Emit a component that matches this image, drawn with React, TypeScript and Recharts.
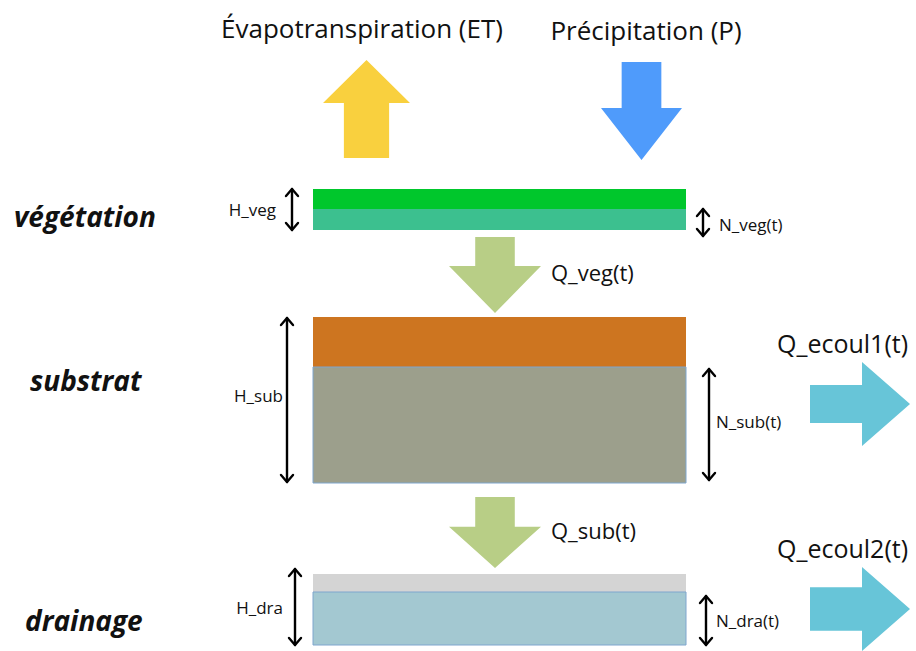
import React from "react";
import { ComposedChart, XAxis, YAxis, ReferenceArea, ReferenceLine, Scatter } from "recharts";

// Diagram units: x runs 0..916 across, depth runs 0..651 downward.
const strata = ["veg_top", "veg_water", "sub_top", "sub_water", "dra_top", "dra_water"];
const strataTop = [189, 209, 317, 367, 574, 592];
const strataBottom = [209, 230, 367, 483, 592, 645];
const strataLeft = 313;
const strataRight = 686;

const flows = ["ET", "P", "Q_veg", "Q_sub", "Q_ecoul1", "Q_ecoul2"];
const flowX0 = [323, 601, 449, 449, 810, 810];
const flowX1 = [410, 682, 541, 541, 910, 910];
const flowY0 = [60, 62, 237, 497, 362, 567];
const flowY1 = [158, 160, 313, 568, 446, 651];

const gauges = ["H_veg", "N_veg", "H_sub", "N_sub", "H_dra", "N_dra"];
const gaugeX = [292, 703, 287, 709, 295, 706];
const gaugeTop = [188, 208, 317, 368, 568, 595];
const gaugeBottom = [231, 237, 483, 481, 646, 646];

const labelTexts = [
  "Évapotranspiration (ET)", "Précipitation (P)",
  "végétation", "substrat", "drainage",
  "H_veg", "N_veg(t)", "H_sub", "N_sub(t)", "H_dra", "N_dra(t)",
  "Q_veg(t)", "Q_sub(t)", "Q_ecoul1(t)", "Q_ecoul2(t)",
];
const labelX = [362, 646, 14, 30, 25, 276, 719, 283, 716, 283, 716, 551, 551, 777, 777];
const labelY = [28, 30, 216, 380, 620, 209, 224, 395, 421, 607, 620, 272, 530, 343, 548];
const labelKind = [
  "title", "title", "layer", "layer", "layer",
  "gaugeL", "gaugeR", "gaugeL", "gaugeR", "gaugeL", "gaugeR",
  "flow", "flow", "outflow", "outflow",
];

const strataStyle: Record<string, { fill: string; stroke?: string }> = {
  veg_top: { fill: "#00c72c" },
  veg_water: { fill: "#3cc08f" },
  sub_top: { fill: "#cd7520" },
  sub_water: { fill: "#9c9f8c", stroke: "#7ea6ce" },
  dra_top: { fill: "#d4d4d4" },
  dra_water: { fill: "#a3c8d1", stroke: "#7ea6ce" },
};

const flowStyle: Record<string, { fill: string; dir: string; shaft: number; head: number }> = {
  ET: { fill: "#f9d03e", dir: "up", shaft: 0.52, head: 0.44 },
  P: { fill: "#4f9bfb", dir: "down", shaft: 0.49, head: 0.53 },
  Q_veg: { fill: "#b8ce86", dir: "down", shaft: 0.43, head: 0.62 },
  Q_sub: { fill: "#b8ce86", dir: "down", shaft: 0.43, head: 0.58 },
  Q_ecoul1: { fill: "#67c5d8", dir: "right", shaft: 0.45, head: 0.48 },
  Q_ecoul2: { fill: "#67c5d8", dir: "right", shaft: 0.52, head: 0.48 },
};

const labelStyle: Record<string, any> = {
  title: { fontSize: 26, anchor: "middle", weight: 400, italic: false },
  layer: { fontSize: 28, anchor: "start", weight: 700, italic: true },
  gaugeL: { fontSize: 17, anchor: "end", weight: 400, italic: false },
  gaugeR: { fontSize: 17, anchor: "start", weight: 400, italic: false },
  flow: { fontSize: 22, anchor: "start", weight: 400, italic: false },
  outflow: { fontSize: 25, anchor: "start", weight: 400, italic: false },
};

const FONT = "'Open Sans', 'Noto Sans', sans-serif";

const labelData = labelTexts.map((t, i) => ({ x: labelX[i], y: labelY[i], text: t, kind: labelKind[i] }));

const blockArrow = (name: string) => (p: any) => {
  const { x, y, width: w, height: h } = p;
  const s = flowStyle[name];
  let pts: number[][] = [];
  if (s.dir === "down" || s.dir === "up") {
    const cx = x + w / 2;
    const sw = (w * s.shaft) / 2;
    const hl = h * s.head;
    if (s.dir === "down") {
      const b = y + h - hl;
      pts = [[cx - sw, y], [cx + sw, y], [cx + sw, b], [x + w, b], [cx, y + h], [x, b], [cx - sw, b]];
    } else {
      const b = y + hl;
      pts = [[cx - sw, y + h], [cx + sw, y + h], [cx + sw, b], [x + w, b], [cx, y], [x, b], [cx - sw, b]];
    }
  } else {
    const cy = y + h / 2;
    const sh = (h * s.shaft) / 2;
    const b = x + w - w * s.head;
    pts = [[x, cy - sh], [b, cy - sh], [b, y], [x + w, cy], [b, y + h], [b, cy + sh], [x, cy + sh]];
  }
  return <polygon points={pts.map((q) => q.join(",")).join(" ")} fill={s.fill} />;
};

const doubleArrow = (p: any) => {
  const { x1, y1, x2, y2 } = p;
  const top = Math.min(y1, y2);
  const bot = Math.max(y1, y2);
  const hw = 6;
  const hl = 8;
  return (
    <g fill="none" stroke="#000" strokeWidth={2.4} strokeLinecap="round" strokeLinejoin="round">
      <line x1={x1} y1={top + 1} x2={x2} y2={bot - 1} />
      <polyline points={`${x1 - hw},${top + hl} ${x1},${top + 1} ${x1 + hw},${top + hl}`} />
      <polyline points={`${x1 - hw},${bot - hl} ${x1},${bot - 1} ${x1 + hw},${bot - hl}`} />
    </g>
  );
};

const TextMark = (p: any) => {
  const { cx, cy, payload } = p;
  const st = labelStyle[payload.kind];
  return (
    <text
      x={cx}
      y={cy}
      dominantBaseline="central"
      textAnchor={st.anchor}
      fontSize={st.fontSize}
      fontWeight={st.weight}
      fontStyle={st.italic ? "italic" : "normal"}
      fontFamily={FONT}
      fill="#111"
    >
      {payload.text}
    </text>
  );
};

export default function App() {
  return (
    <div style={{ position: "absolute", left: 0, top: 0, background: "#fff" }}>
      <ComposedChart width={916} height={651} margin={{ top: 0, right: 0, bottom: 0, left: 0 }}>
        <XAxis type="number" dataKey="x" domain={[0, 916]} hide allowDataOverflow />
        <YAxis type="number" dataKey="y" domain={[0, 651]} reversed hide allowDataOverflow />
        {strata.map((s, i) => (
          <ReferenceArea
            key={s}
            x1={strataLeft}
            x2={strataRight}
            y1={strataTop[i]}
            y2={strataBottom[i]}
            fill={strataStyle[s].fill}
            fillOpacity={1}
            stroke={strataStyle[s].stroke || "none"}
            strokeWidth={1}
          />
        ))}
        {flows.map((f, i) => (
          <ReferenceArea
            key={f}
            x1={flowX0[i]}
            x2={flowX1[i]}
            y1={flowY0[i]}
            y2={flowY1[i]}
            shape={blockArrow(f)}
          />
        ))}
        {gauges.map((g, i) => (
          <ReferenceLine
            key={g}
            segment={[{ x: gaugeX[i], y: gaugeTop[i] }, { x: gaugeX[i], y: gaugeBottom[i] }]}
            shape={doubleArrow}
          />
        ))}
        <Scatter data={labelData} dataKey="y" shape={TextMark} isAnimationActive={false} />
      </ComposedChart>
    </div>
  );
}
